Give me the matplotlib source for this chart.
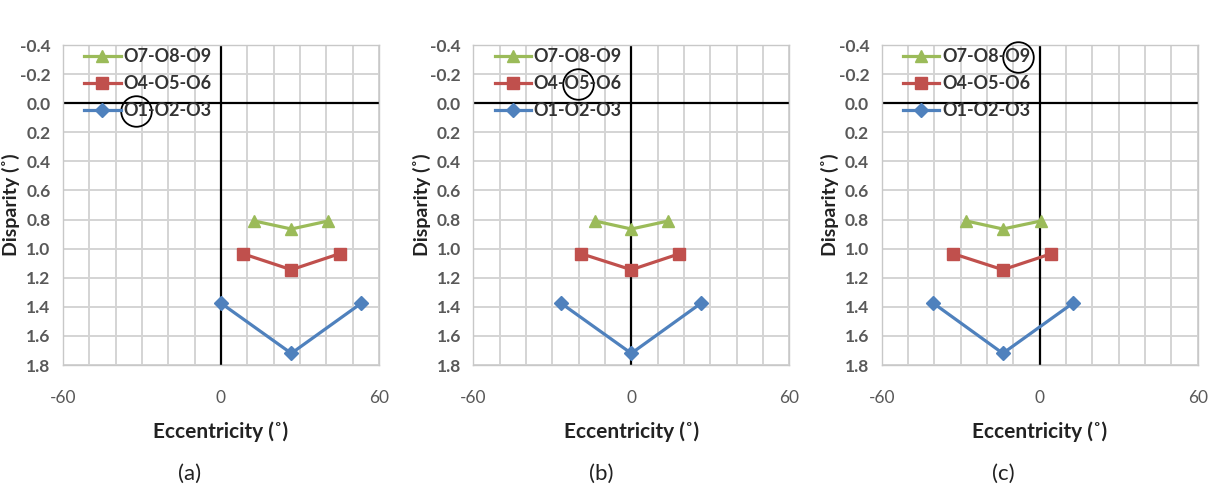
import matplotlib
matplotlib.use("Agg")
import matplotlib.pyplot as plt
from matplotlib.ticker import MultipleLocator, FixedLocator
from matplotlib.text import Text

plt.rcParams['font.family'] = ['Lato', 'DejaVu Sans']
plt.rcParams['axes.unicode_minus'] = False

# ---- data ----
series_labels = ["O7-O8-O9", "O4-O5-O6", "O1-O2-O3"]
disp_789 = [0.81, 0.865, 0.81]
disp_456 = [1.035, 1.145, 1.035]
disp_123 = [1.375, 1.72, 1.375]

ecc_a_789 = [12.7, 26.7, 40.7]
ecc_a_456 = [8.3, 26.7, 45.0]
ecc_a_123 = [0.0, 26.7, 53.3]

ecc_b_789 = [-13.8, 0.0, 14.0]
ecc_b_456 = [-19.0, 0.0, 18.3]
ecc_b_123 = [-26.7, 0.0, 26.5]

ecc_c_789 = [-27.8, -14.0, 0.4]
ecc_c_456 = [-32.8, -14.0, 4.4]
ecc_c_123 = [-40.4, -14.0, 12.6]

panel_names = ["(a)", "(b)", "(c)"]
y_ticks = [-0.4, -0.2, 0.0, 0.2, 0.4, 0.6, 0.8, 1.0, 1.2, 1.4, 1.6, 1.8]
x_ticks = [-60, 0, 60]

panels = [
    (ecc_a_789, ecc_a_456, ecc_a_123),
    (ecc_b_789, ecc_b_456, ecc_b_123),
    (ecc_c_789, ecc_c_456, ecc_c_123),
]
# circled label part: (legend row index, prefix before it, circled text)
circled = [(2, "", "O1"), (1, "O4-", "O5"), (0, "O7-O8-", "O9")]

colors = ["#9BBB59", "#C0504D", "#4F81BD"]
markers = ["^", "s", "D"]
msizes = [9, 9, 7]

W, H = 1210, 487
fig = plt.figure(figsize=(W / 100, H / 100), dpi=100)
lefts = [63, 473.3, 881.7]
width_px = 316
top_px, bot_px = 45, 365
label_x = [190, 601, 1003]

tick_color = "#595959"
axes_list, legends = [], []
for i, (left, (e789, e456, e123)) in enumerate(zip(lefts, panels)):
    ax = fig.add_axes([left / W, (H - bot_px) / H, width_px / W, (bot_px - top_px) / H])
    ax.set_xlim(-60, 60)
    ax.set_ylim(1.8, -0.4)
    ax.xaxis.set_major_locator(FixedLocator(x_ticks))
    ax.xaxis.set_minor_locator(MultipleLocator(10))
    ax.set_yticks(y_ticks)
    ax.set_yticklabels([f"{v:.1f}" for v in y_ticks])
    ax.grid(True, which="both", color="#D4D4D4", lw=1.4, zorder=0)
    ax.set_axisbelow(True)
    for s in ax.spines.values():
        s.set_color("#C8C8C8")
        s.set_linewidth(1.0)
    ax.tick_params(which="both", length=0, labelsize=12.5, colors=tick_color)
    ax.tick_params(axis="x", pad=18)
    ax.tick_params(axis="y", pad=9)
    for lab in ax.get_yticklabels():
        lab.set_fontweight("bold")
    ax.axhline(0, color="black", lw=1.6, zorder=2)
    ax.axvline(0, color="black", lw=1.6, zorder=2)

    handles = []
    for xs, ys, c, m, ms, lab in zip((e789, e456, e123), (disp_789, disp_456, disp_123),
                                     colors, markers, msizes, series_labels):
        h, = ax.plot(xs, ys, color=c, marker=m, ms=ms, lw=2.3, zorder=3, label=lab)
        handles.append(h)
    leg = ax.legend(handles=handles, loc="upper left", frameon=False,
                    prop={"weight": "bold", "size": 13}, handlelength=2.0,
                    handletextpad=0.15, labelspacing=0.55,
                    borderaxespad=0.0, bbox_to_anchor=(0.045, 1.012))
    for t in leg.get_texts():
        t.set_color("#333333")

    ax.set_ylabel("Disparity (˚)", fontsize=14, fontweight="bold", color="#222222")
    ax.yaxis.set_label_coords(-0.135, 0.5)
    ax.set_xlabel("Eccentricity (˚)", fontsize=15, fontweight="bold", color="#222222", labelpad=11)

    fig.text(label_x[i] / W, 1 - 474 / H, panel_names[i],
             ha="center", va="center", fontsize=16, color="#222222")
    axes_list.append(ax)
    legends.append(leg)

# circles around the highlighted part of a legend label
fig.canvas.draw()
renderer = fig.canvas.get_renderer()
for ax, leg, (row, prefix, part) in zip(axes_list, legends, circled):
    t = leg.get_texts()[row]
    bb = t.get_window_extent(renderer)
    def width_of(s):
        if not s:
            return 0.0
        tmp = Text(0, 0, s, fontproperties=t.get_fontproperties(), figure=fig)
        return tmp.get_window_extent(renderer).width
    cx_px = bb.x0 + width_of(prefix) + width_of(part) / 2
    cy_px = (bb.y0 + bb.y1) / 2
    cx, cy = ax.transAxes.inverted().transform((cx_px, cy_px))
    ax.plot([cx], [cy], marker="o", ms=22, mfc="none", mec="black", mew=1.3,
            transform=ax.transAxes, clip_on=False, zorder=5)

fig.savefig("out.png", dpi=100)
